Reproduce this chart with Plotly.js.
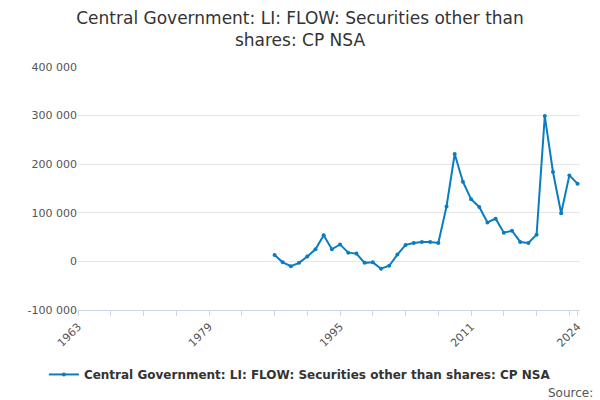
<!DOCTYPE html>
<html><head><meta charset="utf-8">
<script src="https://cdn.plot.ly/plotly-3.0.1.min.js"></script>
<style>body{margin:0}</style></head>
<body><div id="chart" style="width:600px;height:400px"></div>
<script>
var years = [];
for (var y = 1987; y <= 2024; y++) years.push(y);
var values = [13000, -2000, -10000, -3000, 10000, 25000, 54000, 25000, 35000, 18000,
  16000, -3000, -2000, -15000, -9000, 14000, 34000, 38000, 40000, 40000,
  38000, 113000, 221000, 164000, 128000, 112000, 80000, 88000, 59000, 63000,
  40000, 38000, 55000, 299000, 184000, 99000, 177000, 160000];
var yTicks = [-100000, 0, 100000, 200000, 300000, 400000];
var yLabels = ['-100 000', '0', '100 000', '200 000', '300 000', '400 000'];
var xTicks = [1963, 1979, 1995, 2011, 2024];

var data = [{x: years, y: values, name: 'Central Government: LI: FLOW: Securities other than shares: CP NSA',
  mode: 'lines+markers', type: 'scatter', line: {color: '#0a7dc2', width: 2}, marker: {size: 4, color: '#0a7dc2'}}];
var layout = {
  showlegend: true,
  font: {family: 'DejaVu Sans', size: 11, color: '#555'},
  title: {text: 'Central Government: LI: FLOW: Securities other than<br>shares: CP NSA', font: {size: 17, color: '#333'}, x: 0.5, xanchor: 'center', y: 0.94, yanchor: 'middle'},
  margin: {l: 78, r: 20, t: 67, b: 89},
  xaxis: {range: [1963, 2024.3], tickvals: xTicks, tickangle: -45, showgrid: false, ticks: 'outside', tickcolor: '#ccd6eb',
    minor: {dtick: 4, tick0: 1963, ticks: 'outside', ticklen: 5, tickcolor: '#ccd6eb'},
    showline: true, linecolor: '#ccd6eb', zeroline: false},
  yaxis: {range: [-100000, 400000], tickvals: yTicks, ticktext: yLabels, gridcolor: '#e6e6e6', zeroline: false},
  legend: {orientation: 'h', x: 0.442, xanchor: 'center', y: -0.26, yanchor: 'middle', font: {size: 12, color: '#333', weight: 'bold'}},
  annotations: [{text: 'Source:', xref: 'paper', yref: 'paper', x: 1.03, y: -0.34, xanchor: 'right', yanchor: 'middle', showarrow: false, font: {size: 12, color: '#555'}}]
};
Plotly.newPlot('chart', data, layout, {displayModeBar: false});
</script></body></html>
